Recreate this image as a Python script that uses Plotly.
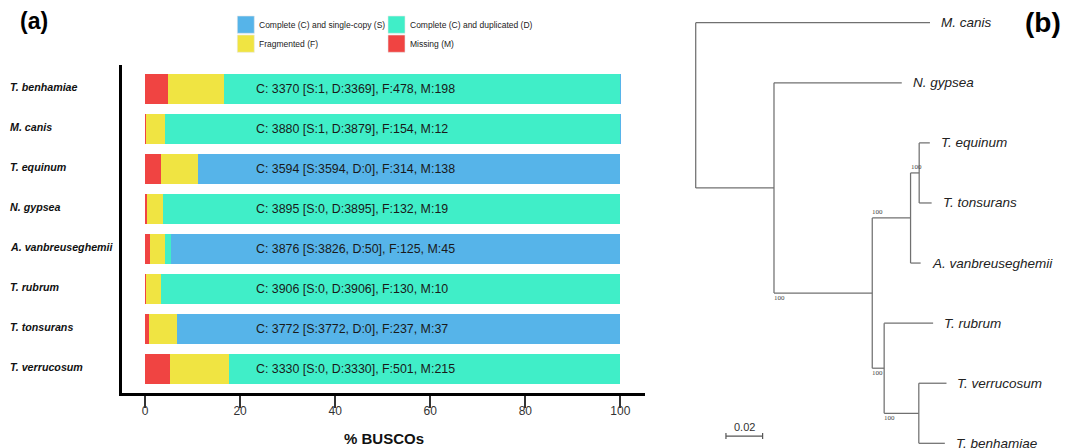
import plotly.graph_objects as go

# ---------------- data: panel (a) BUSCO ----------------
species = ["T. benhamiae", "M. canis", "T. equinum", "N. gypsea",
           "A. vanbreuseghemii", "T. rubrum", "T. tonsurans", "T. verrucosum"]
single_S = [1, 1, 3594, 0, 3826, 0, 3772, 0]
dup_D = [3369, 3879, 0, 3895, 50, 3906, 0, 3330]
frag_F = [478, 154, 314, 132, 125, 130, 237, 501]
miss_M = [198, 12, 138, 19, 45, 10, 37, 215]
x_ticks = [0, 20, 40, 60, 80, 100]

legend_labels = ["Complete (C) and single-copy (S)", "Complete (C) and duplicated (D)",
                 "Fragmented (F)", "Missing (M)"]
COL_S, COL_D, COL_F, COL_M = "#56B4E9", "#40EEC8", "#F0E442", "#F04442"

# ---------------- data: panel (b) tree ----------------
tip_order = ["M. canis", "N. gypsea", "T. equinum", "T. tonsurans",
             "A. vanbreuseghemii", "T. rubrum", "T. verrucosum", "T. benhamiae"]
edge_parent = ["root", "root", "A", "A", "B", "B", "C", "C", "E", "E", "D", "D", "F", "F"]
edge_child = ["M. canis", "A", "N. gypsea", "B", "C", "D", "E", "A. vanbreuseghemii",
              "T. equinum", "T. tonsurans", "T. rubrum", "F", "T. verrucosum", "T. benhamiae"]
edge_length = [0.1278, 0.0427, 0.0697, 0.0536, 0.0209, 0.0065, 0.0047, 0.0055,
               0.0058, 0.0068, 0.0267, 0.0189, 0.0151, 0.0142]
support_nodes = ["B", "C", "E", "D", "F"]
support_values = [100, 100, 100, 100, 100]
scale_bar_length = 0.02

# ---------------- geometry helpers ----------------
W, H = 1075, 448
def px(x):
    return x / W
def py(y):
    return 1 - y / H

FONT = "Liberation Sans, Arial, Helvetica, sans-serif"

totals = [s + d + f + m for s, d, f, m in zip(single_S, dup_D, frag_F, miss_M)]
def pct(vals):
    return [v / t * 100 for v, t in zip(vals, totals)]

fig = go.Figure()

# stacked bars: Missing, Fragmented, Duplicated, Single (left to right)
for vals, col, name in [(miss_M, COL_M, legend_labels[3]), (frag_F, COL_F, legend_labels[2]),
                        (dup_D, COL_D, legend_labels[1]), (single_S, COL_S, legend_labels[0])]:
    fig.add_trace(go.Bar(x=pct(vals), y=species, orientation="h", width=0.75,
                         marker=dict(color=col, line=dict(width=0)), name=name,
                         showlegend=False, hoverinfo="skip", xaxis="x", yaxis="y"))

# ---------------- tree layout ----------------
children = {}
blen = {}
for p, c, l in zip(edge_parent, edge_child, edge_length):
    children.setdefault(p, []).append(c)
    blen[c] = l
xpos = {"root": 0.0}
def set_x(n):
    for c in children.get(n, []):
        xpos[c] = xpos[n] + blen[c]
        set_x(c)
set_x("root")
ypos = {t: i for i, t in enumerate(tip_order)}
def set_y(n):
    if n in ypos:
        return ypos[n]
    ys = [set_y(c) for c in children[n]]
    ypos[n] = sum(ys) / len(ys)
    return ypos[n]
set_y("root")

lx, ly = [], []
for p, c in zip(edge_parent, edge_child):
    lx += [xpos[p], xpos[c], None]
    ly += [ypos[c], ypos[c], None]
for n, ch in children.items():
    ys = [ypos[c] for c in ch]
    lx += [xpos[n], xpos[n], None]
    ly += [min(ys), max(ys), None]
fig.add_trace(go.Scatter(x=lx, y=ly, mode="lines", line=dict(color="#707070", width=1.25),
                         showlegend=False, hoverinfo="skip", xaxis="x2", yaxis="y2"))

# scale bar
sb_x0, sb_y = 0.0165, 6.88
tk = 0.05
fig.add_trace(go.Scatter(
    x=[sb_x0, sb_x0 + scale_bar_length, None, sb_x0, sb_x0, None,
       sb_x0 + scale_bar_length, sb_x0 + scale_bar_length],
    y=[sb_y, sb_y, None, sb_y - tk, sb_y + tk, None, sb_y - tk, sb_y + tk],
    mode="lines", line=dict(color="#555555", width=1.2),
    showlegend=False, hoverinfo="skip", xaxis="x2", yaxis="y2"))

annotations = []
# scale label
annotations.append(dict(x=sb_x0 + scale_bar_length / 2, y=sb_y, xref="x2", yref="y2",
                        text=f"{scale_bar_length:.2f}", showarrow=False, xanchor="center",
                        yanchor="bottom", yshift=1, font=dict(family=FONT, size=11, color="#333")))

# tip labels
for t in tip_order:
    annotations.append(dict(x=xpos[t], y=ypos[t], xref="x2", yref="y2", text=f"<i>{t}</i>",
                            showarrow=False, xanchor="left", yanchor="middle", xshift=9,
                            font=dict(family=FONT, size=13.5, color="#222")))

# bootstrap labels
parent_of = {c: p for p, c in zip(edge_parent, edge_child)}
for n, v in zip(support_nodes, support_values):
    p = parent_of[n]
    sibs = [ypos[c] for c in children[p]]
    upper = ypos[n] <= min(sibs)
    annotations.append(dict(x=xpos[p], y=ypos[n], xref="x2", yref="y2", text=str(v),
                            showarrow=False, xanchor="left", xshift=-2,
                            yanchor="bottom" if upper else "top",
                            yshift=0 if upper else 1,
                            font=dict(family="Liberation Serif, Times New Roman, serif",
                                      size=7, color="#444")))

# bar text
for sp, s, d, f, m in zip(species, single_S, dup_D, frag_F, miss_M):
    annotations.append(dict(x=22.9, y=sp, xref="x", yref="y",
                            text=f"C: {s + d} [S:{s}, D:{d}], F:{f}, M:{m}",
                            showarrow=False, xanchor="left", yanchor="middle",
                            font=dict(family=FONT, size=12.4, color="#1a1a1a")))

# category labels
for sp in species:
    annotations.append(dict(x=px(8), y=sp, xref="paper", yref="y", text=f"<b><i>{sp}</i></b>",
                            showarrow=False, xanchor="left", yanchor="middle", yshift=2,
                            font=dict(family=FONT, size=10.7, color="#111")))

# axis title
annotations.append(dict(x=0.5, y=py(438), xref="x domain", yref="paper", text="<b>% BUSCOs</b>",
                        showarrow=False, xanchor="center", yanchor="middle",
                        font=dict(family=FONT, size=15, color="#111")))

# panel labels
annotations.append(dict(x=px(34), y=py(21), xref="paper", yref="paper", text="<b>(a)</b>",
                        showarrow=False, xanchor="center", yanchor="middle",
                        font=dict(family=FONT, size=23, color="#000")))
annotations.append(dict(x=px(1043), y=py(22), xref="paper", yref="paper", text="<b>(b)</b>",
                        showarrow=False, xanchor="center", yanchor="middle",
                        font=dict(family=FONT, size=28, color="#000")))

# custom legend (2x2)
shapes = []
leg_cols = [COL_S, COL_D, COL_F, COL_M]
leg_sw_x = [237.3, 388, 237.3, 388]
leg_sw_y = [16, 16, 35, 35]
for lab, col, sx, sy in zip(legend_labels, leg_cols, leg_sw_x, leg_sw_y):
    shapes.append(dict(type="rect", xref="paper", yref="paper",
                       x0=px(sx), x1=px(sx + 17), y0=py(sy), y1=py(sy + 17.3),
                       fillcolor=col, line=dict(width=0.6, color="#e8e8e8")))
    annotations.append(dict(x=px(sx + 20), y=py(sy + 8.8), xref="paper", yref="paper", text=lab,
                            showarrow=False, xanchor="left", yanchor="middle",
                            font=dict(family=FONT, size=8.5, color="#222")))

fig.update_layout(
    width=W, height=H, margin=dict(l=0, r=0, t=0, b=0), autosize=False,
    paper_bgcolor="white", plot_bgcolor="white", barmode="stack", showlegend=False,
    font=dict(family=FONT),
    xaxis=dict(domain=[px(121.7), px(647)], range=[-4.9, 105.6], anchor="y",
               showline=True, linecolor="black", linewidth=2.5, showgrid=False, zeroline=False,
               ticks="outside", ticklen=12, tickwidth=1.6, tickcolor="#333",
               tickvals=x_ticks, ticktext=[str(t) for t in x_ticks],
               ticklabelstandoff=-7,
               tickfont=dict(family=FONT, size=12, color="#333")),
    yaxis=dict(domain=[py(393.3), py(65)], range=[7.6, -0.6075], anchor="x",
               type="category", categoryorder="array", categoryarray=species,
               showline=True, linecolor="black", linewidth=2.5, showgrid=False,
               zeroline=False, showticklabels=False, ticks=""),
    xaxis2=dict(domain=[px(645), 1.0], range=[-0.02766, 0.2069], anchor="y2",
                visible=False),
    yaxis2=dict(domain=[0, 1], range=[7.078, -0.378], anchor="x2", visible=False),
    annotations=annotations, shapes=shapes,
)

fig.write_html("out.html", config={"displayModeBar": False},
               post_script="document.body.style.margin='0';document.body.style.overflow='hidden';")
